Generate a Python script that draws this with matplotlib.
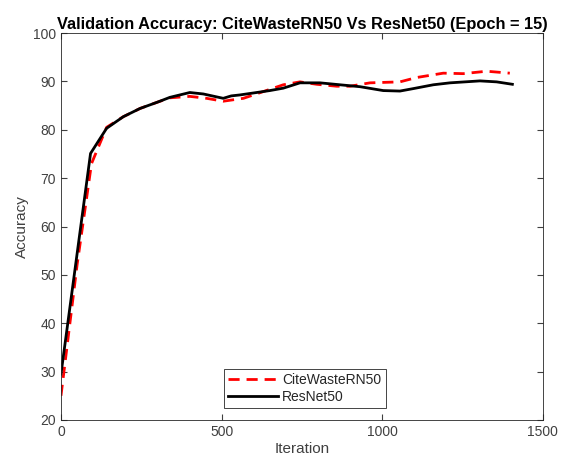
import matplotlib.pyplot as plt

# valores
iter_cite = [0, 50, 95, 142, 194, 246, 300, 339, 401, 453, 505, 568, 630,
             692, 744, 796, 858, 900, 962, 1055, 1107, 1190, 1252, 1325, 1397]
acc_cite = [25.0, 52.0, 73.0, 80.5, 82.7, 84.4, 85.7, 86.6, 86.9, 86.5, 85.9,
            86.5, 87.9, 89.3, 89.9, 89.4, 89.0, 89.0, 89.7, 89.9, 90.8, 91.7, 91.6,
            92.1, 91.7]

iter_res = [0, 92, 142, 194, 246, 300, 339, 401, 443, 505, 530, 557, 609,
            650, 692, 744, 806, 868, 931, 1003, 1055, 1096, 1159, 1211, 1304, 1356, 1405]
acc_res = [29.5, 75.1, 80.3, 82.7, 84.4, 85.7, 86.7, 87.7, 87.4, 86.5,
           87.0, 87.2, 87.7, 88.1, 88.6, 89.7, 89.7, 89.3, 88.9, 88.1, 88.0, 88.5,
           89.3, 89.7, 90.1, 89.9, 89.4]

x_ticks = [0, 500, 1000, 1500]
y_ticks = [20, 30, 40, 50, 60, 70, 80, 90, 100]

plt.rcParams['font.family'] = ['Liberation Sans', 'DejaVu Sans']

fig = plt.figure(figsize=(5.62, 4.65), dpi=100)
ax = fig.add_axes([0.1085, 0.0968, 0.8575, 0.8322])

ax.plot(iter_cite, acc_cite, color='red', linestyle=(0, (4, 2.5)), linewidth=2,
        label='CiteWasteRN50')
ax.plot(iter_res, acc_res, color='black', linewidth=2, label='ResNet50')

ax.set_xlim(0, 1500)
ax.set_ylim(20, 100)
ax.set_xticks(x_ticks)
ax.set_yticks(y_ticks)
ax.tick_params(direction='in', top=True, right=True, length=4, labelsize=10,
               colors='#404040', labelcolor='#404040')
for s in ax.spines.values():
    s.set_color('#262626')
    s.set_linewidth(0.6)

ax.set_xlabel('Iteration', fontsize=11, color='#404040', labelpad=2)
ax.set_ylabel('Accuracy', fontsize=11, color='#404040', labelpad=3)
ax.set_title('Validation Accuracy: CiteWasteRN50 Vs ResNet50 (Epoch = 15)',
             fontsize=11.8, fontweight='bold', pad=3)

leg = ax.legend(loc='lower center', bbox_to_anchor=(0.506, 0.03), fontsize=10,
                fancybox=False, framealpha=1, edgecolor='#262626',
                handlelength=3.6, borderpad=0.3, labelspacing=0.25,
                handletextpad=0.3, borderaxespad=0)
leg.get_frame().set_linewidth(0.6)
for t in leg.get_texts():
    t.set_color('#262626')

fig.savefig('out.png', dpi=100)
